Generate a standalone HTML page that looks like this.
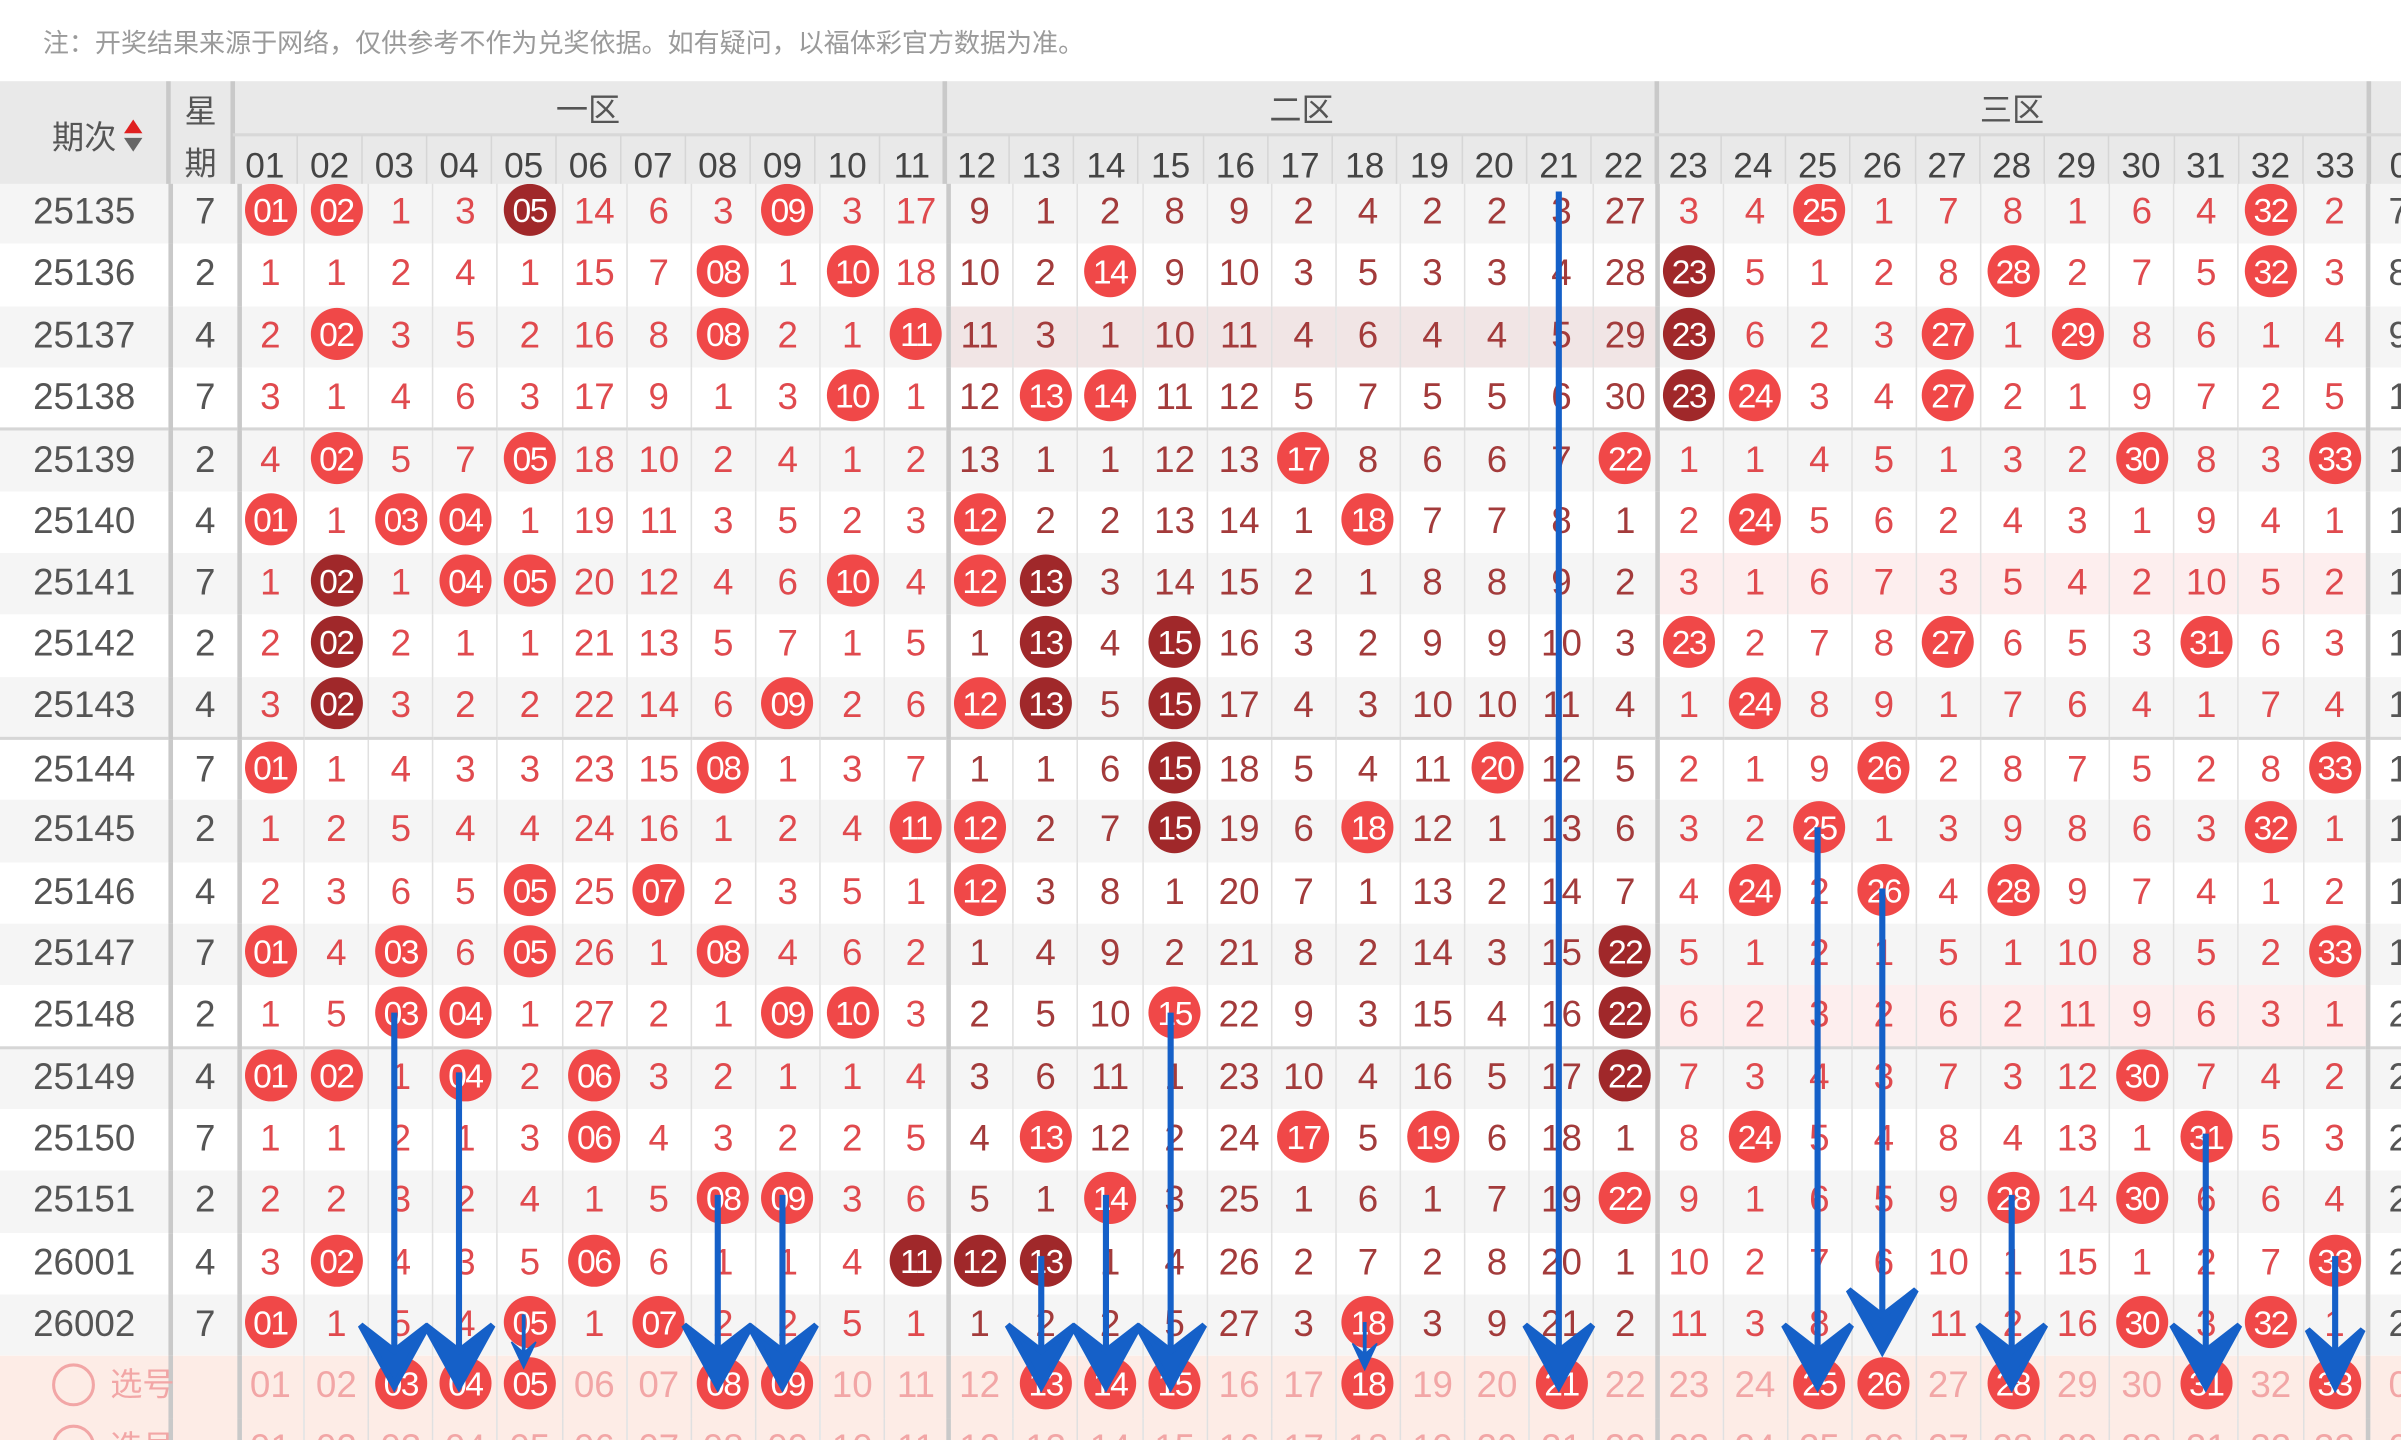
<!DOCTYPE html>
<html><head><meta charset="utf-8"><style>
html,body{margin:0;padding:0;background:#fff;width:2401px;height:1440px;overflow:hidden}
#w{position:absolute;left:0;top:0;width:1568px;height:940px;transform:scale(1.53125,1.5319);transform-origin:0 0;overflow:hidden;font-family:"Liberation Sans","Noto Sans CJK SC",sans-serif}
.note{position:absolute;left:28px;top:14px;font-size:17px;color:#9a9a9a}
.hd{position:absolute;left:0;top:53px;width:1600px;height:67px;background:#e9e9e9}
table{position:absolute;left:0;top:119px;border-collapse:collapse;table-layout:fixed;width:1588.5px}
tr{height:40.33px}
td{padding:0;text-align:center;font-size:24px;color:#e04a4e;border-left:1px solid #e0e0e0;white-space:nowrap;overflow:hidden;line-height:30px}
td:nth-child(1){width:110px;color:#555;border-left:none}
td:nth-child(2){width:42px;color:#555;border-left:3px solid #c9c9c9}
td:nth-child(3),td:nth-child(14),td:nth-child(25),td:nth-child(36){border-left:3px solid #c9c9c9;padding-right:3px}
td:nth-child(n+14):nth-child(-n+24){color:#a33b3b}
td:nth-child(36){color:#555}
tr:nth-child(odd) td{background:#f5f5f5}
tr.g td{border-bottom:2px solid #d6d6d6}
tr.p2 td:nth-child(n+14):nth-child(-n+24){background:#f1e5e5}
tr.p3 td:nth-child(n+25):nth-child(-n+35){background:#fdeeee}
b,i{display:inline-block;width:34px;height:34px;border-radius:50%;background:#f04848;color:#fff;line-height:35px;font-weight:normal;font-style:normal;font-size:22px;vertical-align:middle;letter-spacing:-1px;position:relative;top:-2px}
i{background:#a0282a}
tr.sel td,tr.sel2 td{background:#fdece6 !important;color:#f2a6a6 !important}
tr.sel td:first-child,tr.sel2 td:first-child{text-align:left;padding-left:34px;overflow:visible;font-size:21px}
.ci{display:inline-block;width:24px;height:24px;border:2px solid #f2a6a6;border-radius:50%;vertical-align:middle;margin-right:10px;position:relative;top:-2px}
svg{position:absolute;left:0;top:0}
</style></head><body><div id="w">
<div class="note">注：开奖结果来源于网络，仅供参考不作为兑奖依据。如有疑问，以福体彩官方数据为准。</div>
<table>
<tr><td>25135</td><td>7</td><td><b>01</b></td><td><b>02</b></td><td>1</td><td>3</td><td><i>05</i></td><td>14</td><td>6</td><td>3</td><td><b>09</b></td><td>3</td><td>17</td><td>9</td><td>1</td><td>2</td><td>8</td><td>9</td><td>2</td><td>4</td><td>2</td><td>2</td><td>3</td><td>27</td><td>3</td><td>4</td><td><b>25</b></td><td>1</td><td>7</td><td>8</td><td>1</td><td>6</td><td>4</td><td><b>32</b></td><td>2</td><td>7</td></tr>
<tr><td>25136</td><td>2</td><td>1</td><td>1</td><td>2</td><td>4</td><td>1</td><td>15</td><td>7</td><td><b>08</b></td><td>1</td><td><b>10</b></td><td>18</td><td>10</td><td>2</td><td><b>14</b></td><td>9</td><td>10</td><td>3</td><td>5</td><td>3</td><td>3</td><td>4</td><td>28</td><td><i>23</i></td><td>5</td><td>1</td><td>2</td><td>8</td><td><b>28</b></td><td>2</td><td>7</td><td>5</td><td><b>32</b></td><td>3</td><td>8</td></tr>
<tr class="p2"><td>25137</td><td>4</td><td>2</td><td><b>02</b></td><td>3</td><td>5</td><td>2</td><td>16</td><td>8</td><td><b>08</b></td><td>2</td><td>1</td><td><b>11</b></td><td>11</td><td>3</td><td>1</td><td>10</td><td>11</td><td>4</td><td>6</td><td>4</td><td>4</td><td>5</td><td>29</td><td><i>23</i></td><td>6</td><td>2</td><td>3</td><td><b>27</b></td><td>1</td><td><b>29</b></td><td>8</td><td>6</td><td>1</td><td>4</td><td>9</td></tr>
<tr class="g"><td>25138</td><td>7</td><td>3</td><td>1</td><td>4</td><td>6</td><td>3</td><td>17</td><td>9</td><td>1</td><td>3</td><td><b>10</b></td><td>1</td><td>12</td><td><b>13</b></td><td><b>14</b></td><td>11</td><td>12</td><td>5</td><td>7</td><td>5</td><td>5</td><td>6</td><td>30</td><td><i>23</i></td><td><b>24</b></td><td>3</td><td>4</td><td><b>27</b></td><td>2</td><td>1</td><td>9</td><td>7</td><td>2</td><td>5</td><td>1</td></tr>
<tr><td>25139</td><td>2</td><td>4</td><td><b>02</b></td><td>5</td><td>7</td><td><b>05</b></td><td>18</td><td>10</td><td>2</td><td>4</td><td>1</td><td>2</td><td>13</td><td>1</td><td>1</td><td>12</td><td>13</td><td><b>17</b></td><td>8</td><td>6</td><td>6</td><td>7</td><td><b>22</b></td><td>1</td><td>1</td><td>4</td><td>5</td><td>1</td><td>3</td><td>2</td><td><b>30</b></td><td>8</td><td>3</td><td><b>33</b></td><td>1</td></tr>
<tr><td>25140</td><td>4</td><td><b>01</b></td><td>1</td><td><b>03</b></td><td><b>04</b></td><td>1</td><td>19</td><td>11</td><td>3</td><td>5</td><td>2</td><td>3</td><td><b>12</b></td><td>2</td><td>2</td><td>13</td><td>14</td><td>1</td><td><b>18</b></td><td>7</td><td>7</td><td>8</td><td>1</td><td>2</td><td><b>24</b></td><td>5</td><td>6</td><td>2</td><td>4</td><td>3</td><td>1</td><td>9</td><td>4</td><td>1</td><td>1</td></tr>
<tr class="p3"><td>25141</td><td>7</td><td>1</td><td><i>02</i></td><td>1</td><td><b>04</b></td><td><b>05</b></td><td>20</td><td>12</td><td>4</td><td>6</td><td><b>10</b></td><td>4</td><td><b>12</b></td><td><i>13</i></td><td>3</td><td>14</td><td>15</td><td>2</td><td>1</td><td>8</td><td>8</td><td>9</td><td>2</td><td>3</td><td>1</td><td>6</td><td>7</td><td>3</td><td>5</td><td>4</td><td>2</td><td>10</td><td>5</td><td>2</td><td>1</td></tr>
<tr><td>25142</td><td>2</td><td>2</td><td><i>02</i></td><td>2</td><td>1</td><td>1</td><td>21</td><td>13</td><td>5</td><td>7</td><td>1</td><td>5</td><td>1</td><td><i>13</i></td><td>4</td><td><i>15</i></td><td>16</td><td>3</td><td>2</td><td>9</td><td>9</td><td>10</td><td>3</td><td><b>23</b></td><td>2</td><td>7</td><td>8</td><td><b>27</b></td><td>6</td><td>5</td><td>3</td><td><b>31</b></td><td>6</td><td>3</td><td>1</td></tr>
<tr class="g"><td>25143</td><td>4</td><td>3</td><td><i>02</i></td><td>3</td><td>2</td><td>2</td><td>22</td><td>14</td><td>6</td><td><b>09</b></td><td>2</td><td>6</td><td><b>12</b></td><td><i>13</i></td><td>5</td><td><i>15</i></td><td>17</td><td>4</td><td>3</td><td>10</td><td>10</td><td>11</td><td>4</td><td>1</td><td><b>24</b></td><td>8</td><td>9</td><td>1</td><td>7</td><td>6</td><td>4</td><td>1</td><td>7</td><td>4</td><td>1</td></tr>
<tr><td>25144</td><td>7</td><td><b>01</b></td><td>1</td><td>4</td><td>3</td><td>3</td><td>23</td><td>15</td><td><b>08</b></td><td>1</td><td>3</td><td>7</td><td>1</td><td>1</td><td>6</td><td><i>15</i></td><td>18</td><td>5</td><td>4</td><td>11</td><td><b>20</b></td><td>12</td><td>5</td><td>2</td><td>1</td><td>9</td><td><b>26</b></td><td>2</td><td>8</td><td>7</td><td>5</td><td>2</td><td>8</td><td><b>33</b></td><td>1</td></tr>
<tr><td>25145</td><td>2</td><td>1</td><td>2</td><td>5</td><td>4</td><td>4</td><td>24</td><td>16</td><td>1</td><td>2</td><td>4</td><td><b>11</b></td><td><b>12</b></td><td>2</td><td>7</td><td><i>15</i></td><td>19</td><td>6</td><td><b>18</b></td><td>12</td><td>1</td><td>13</td><td>6</td><td>3</td><td>2</td><td><b>25</b></td><td>1</td><td>3</td><td>9</td><td>8</td><td>6</td><td>3</td><td><b>32</b></td><td>1</td><td>1</td></tr>
<tr><td>25146</td><td>4</td><td>2</td><td>3</td><td>6</td><td>5</td><td><b>05</b></td><td>25</td><td><b>07</b></td><td>2</td><td>3</td><td>5</td><td>1</td><td><b>12</b></td><td>3</td><td>8</td><td>1</td><td>20</td><td>7</td><td>1</td><td>13</td><td>2</td><td>14</td><td>7</td><td>4</td><td><b>24</b></td><td>2</td><td><b>26</b></td><td>4</td><td><b>28</b></td><td>9</td><td>7</td><td>4</td><td>1</td><td>2</td><td>1</td></tr>
<tr><td>25147</td><td>7</td><td><b>01</b></td><td>4</td><td><b>03</b></td><td>6</td><td><b>05</b></td><td>26</td><td>1</td><td><b>08</b></td><td>4</td><td>6</td><td>2</td><td>1</td><td>4</td><td>9</td><td>2</td><td>21</td><td>8</td><td>2</td><td>14</td><td>3</td><td>15</td><td><i>22</i></td><td>5</td><td>1</td><td>2</td><td>1</td><td>5</td><td>1</td><td>10</td><td>8</td><td>5</td><td>2</td><td><b>33</b></td><td>1</td></tr>
<tr class="g p3"><td>25148</td><td>2</td><td>1</td><td>5</td><td><b>03</b></td><td><b>04</b></td><td>1</td><td>27</td><td>2</td><td>1</td><td><b>09</b></td><td><b>10</b></td><td>3</td><td>2</td><td>5</td><td>10</td><td><b>15</b></td><td>22</td><td>9</td><td>3</td><td>15</td><td>4</td><td>16</td><td><i>22</i></td><td>6</td><td>2</td><td>3</td><td>2</td><td>6</td><td>2</td><td>11</td><td>9</td><td>6</td><td>3</td><td>1</td><td>2</td></tr>
<tr><td>25149</td><td>4</td><td><b>01</b></td><td><b>02</b></td><td>1</td><td><b>04</b></td><td>2</td><td><b>06</b></td><td>3</td><td>2</td><td>1</td><td>1</td><td>4</td><td>3</td><td>6</td><td>11</td><td>1</td><td>23</td><td>10</td><td>4</td><td>16</td><td>5</td><td>17</td><td><i>22</i></td><td>7</td><td>3</td><td>4</td><td>3</td><td>7</td><td>3</td><td>12</td><td><b>30</b></td><td>7</td><td>4</td><td>2</td><td>2</td></tr>
<tr><td>25150</td><td>7</td><td>1</td><td>1</td><td>2</td><td>1</td><td>3</td><td><b>06</b></td><td>4</td><td>3</td><td>2</td><td>2</td><td>5</td><td>4</td><td><b>13</b></td><td>12</td><td>2</td><td>24</td><td><b>17</b></td><td>5</td><td><b>19</b></td><td>6</td><td>18</td><td>1</td><td>8</td><td><b>24</b></td><td>5</td><td>4</td><td>8</td><td>4</td><td>13</td><td>1</td><td><b>31</b></td><td>5</td><td>3</td><td>2</td></tr>
<tr><td>25151</td><td>2</td><td>2</td><td>2</td><td>3</td><td>2</td><td>4</td><td>1</td><td>5</td><td><b>08</b></td><td><b>09</b></td><td>3</td><td>6</td><td>5</td><td>1</td><td><b>14</b></td><td>3</td><td>25</td><td>1</td><td>6</td><td>1</td><td>7</td><td>19</td><td><b>22</b></td><td>9</td><td>1</td><td>6</td><td>5</td><td>9</td><td><b>28</b></td><td>14</td><td><b>30</b></td><td>6</td><td>6</td><td>4</td><td>2</td></tr>
<tr><td>26001</td><td>4</td><td>3</td><td><b>02</b></td><td>4</td><td>3</td><td>5</td><td><b>06</b></td><td>6</td><td>1</td><td>1</td><td>4</td><td><i>11</i></td><td><i>12</i></td><td><i>13</i></td><td>1</td><td>4</td><td>26</td><td>2</td><td>7</td><td>2</td><td>8</td><td>20</td><td>1</td><td>10</td><td>2</td><td>7</td><td>6</td><td>10</td><td>1</td><td>15</td><td>1</td><td>2</td><td>7</td><td><b>33</b></td><td>2</td></tr>
<tr><td>26002</td><td>7</td><td><b>01</b></td><td>1</td><td>5</td><td>4</td><td><b>05</b></td><td>1</td><td><b>07</b></td><td>2</td><td>2</td><td>5</td><td>1</td><td>1</td><td>2</td><td>2</td><td>5</td><td>27</td><td>3</td><td><b>18</b></td><td>3</td><td>9</td><td>21</td><td>2</td><td>11</td><td>3</td><td>8</td><td>7</td><td>11</td><td>2</td><td>16</td><td><b>30</b></td><td>3</td><td><b>32</b></td><td>1</td><td>2</td></tr>
<tr class="sel"><td><span class="ci"></span>选号</td><td></td><td>01</td><td>02</td><td><b>03</b></td><td><b>04</b></td><td><b>05</b></td><td>06</td><td>07</td><td><b>08</b></td><td><b>09</b></td><td>10</td><td>11</td><td>12</td><td><b>13</b></td><td><b>14</b></td><td><b>15</b></td><td>16</td><td>17</td><td><b>18</b></td><td>19</td><td>20</td><td><b>21</b></td><td>22</td><td>23</td><td>24</td><td><b>25</b></td><td><b>26</b></td><td>27</td><td><b>28</b></td><td>29</td><td>30</td><td><b>31</b></td><td>32</td><td><b>33</b></td><td>0</td></tr>
<tr class="sel2"><td><span class="ci"></span>选号</td><td></td><td>01</td><td>02</td><td>03</td><td>04</td><td>05</td><td>06</td><td>07</td><td>08</td><td>09</td><td>10</td><td>11</td><td>12</td><td>13</td><td>14</td><td>15</td><td>16</td><td>17</td><td>18</td><td>19</td><td>20</td><td>21</td><td>22</td><td>23</td><td>24</td><td>25</td><td>26</td><td>27</td><td>28</td><td>29</td><td>30</td><td>31</td><td>32</td><td>33</td><td>0</td></tr>
</table>
<div class="hd"></div>
<svg width="1600" height="940" viewBox="0 0 1600 940" style="pointer-events:none">
<g stroke="#c9c9c9" stroke-width="3"><line x1="110" y1="53" x2="110" y2="120"/><line x1="152" y1="53" x2="152" y2="120"/><line x1="617" y1="53" x2="617" y2="120"/><line x1="1082" y1="53" x2="1082" y2="120"/><line x1="1547" y1="53" x2="1547" y2="120"/></g>
<line x1="152" y1="88" x2="1600" y2="88" stroke="#d8d8d8" stroke-width="2"/>
<g stroke="#d6d6d6" stroke-width="1">
<line x1="194.1" y1="88" x2="194.1" y2="120"/><line x1="236.4" y1="88" x2="236.4" y2="120"/><line x1="278.6" y1="88" x2="278.6" y2="120"/><line x1="320.9" y1="88" x2="320.9" y2="120"/><line x1="363.1" y1="88" x2="363.1" y2="120"/><line x1="405.4" y1="88" x2="405.4" y2="120"/><line x1="447.6" y1="88" x2="447.6" y2="120"/><line x1="489.9" y1="88" x2="489.9" y2="120"/><line x1="532.1" y1="88" x2="532.1" y2="120"/><line x1="574.4" y1="88" x2="574.4" y2="120"/>
<line x1="659" y1="88" x2="659" y2="120"/><line x1="701" y1="88" x2="701" y2="120"/><line x1="743" y1="88" x2="743" y2="120"/><line x1="786" y1="88" x2="786" y2="120"/><line x1="828" y1="88" x2="828" y2="120"/><line x1="870" y1="88" x2="870" y2="120"/><line x1="912" y1="88" x2="912" y2="120"/><line x1="955" y1="88" x2="955" y2="120"/><line x1="997" y1="88" x2="997" y2="120"/><line x1="1039" y1="88" x2="1039" y2="120"/>
<line x1="1124" y1="88" x2="1124" y2="120"/><line x1="1166" y1="88" x2="1166" y2="120"/><line x1="1208" y1="88" x2="1208" y2="120"/><line x1="1251" y1="88" x2="1251" y2="120"/><line x1="1293" y1="88" x2="1293" y2="120"/><line x1="1335" y1="88" x2="1335" y2="120"/><line x1="1377" y1="88" x2="1377" y2="120"/><line x1="1420" y1="88" x2="1420" y2="120"/><line x1="1462" y1="88" x2="1462" y2="120"/><line x1="1504" y1="88" x2="1504" y2="120"/>
</g>
<g font-family="Liberation Sans, Noto Sans CJK SC, sans-serif" fill="#555" font-size="21">
<text x="34" y="97">期次</text><polygon points="87,78 81,87 93,87" fill="#e02020"/><polygon points="81,90 93,90 87,99" fill="#666"/>
<text x="131" y="80" text-anchor="middle">星</text><text x="131" y="114" text-anchor="middle">期</text>
<text x="384" y="79" text-anchor="middle">一区</text><text x="850" y="79" text-anchor="middle">二区</text><text x="1314" y="79" text-anchor="middle">三区</text>
</g>
<g font-family="Liberation Sans, sans-serif" fill="#444" font-size="23" text-anchor="middle">
<text x="173" y="116">01</text><text x="215.25" y="116">02</text><text x="257.5" y="116">03</text><text x="299.75" y="116">04</text><text x="342" y="116">05</text><text x="384.25" y="116">06</text><text x="426.5" y="116">07</text><text x="468.75" y="116">08</text><text x="511" y="116">09</text><text x="553.25" y="116">10</text><text x="595.5" y="116">11</text>
<text x="637.75" y="116">12</text><text x="680" y="116">13</text><text x="722.25" y="116">14</text><text x="764.5" y="116">15</text><text x="806.75" y="116">16</text><text x="849" y="116">17</text><text x="891.25" y="116">18</text><text x="933.5" y="116">19</text><text x="975.75" y="116">20</text><text x="1018" y="116">21</text><text x="1060.25" y="116">22</text>
<text x="1102.5" y="116">23</text><text x="1144.75" y="116">24</text><text x="1187" y="116">25</text><text x="1229.25" y="116">26</text><text x="1271.5" y="116">27</text><text x="1313.75" y="116">28</text><text x="1356" y="116">29</text><text x="1398.25" y="116">30</text><text x="1440.5" y="116">31</text><text x="1482.75" y="116">32</text><text x="1525" y="116">33</text><text x="1567" y="116">0</text>
</g>
<g stroke="#1560c8" stroke-width="4" fill="#1560c8">
<line x1="257.5" y1="661" x2="257.5" y2="890"/><polygon points="235.5,865 257.5,905 279.5,865 257.5,882"/>
<line x1="299.75" y1="700" x2="299.75" y2="890"/><polygon points="277.75,865 299.75,905 321.75,865 299.75,882"/>
<line x1="342" y1="858" x2="342" y2="885" stroke-width="2.5"/><polygon points="334,876 342,893 350,876 342,883" stroke-width="1"/>
<line x1="468.75" y1="780" x2="468.75" y2="890"/><polygon points="446.75,865 468.75,905 490.75,865 468.75,882"/>
<line x1="511" y1="780" x2="511" y2="890"/><polygon points="489,865 511,905 533,865 511,882"/>
<line x1="680" y1="820" x2="680" y2="890"/><polygon points="658,865 680,905 702,865 680,882"/>
<line x1="722.25" y1="780" x2="722.25" y2="890"/><polygon points="700.25,865 722.25,905 744.25,865 722.25,882"/>
<line x1="764.5" y1="661" x2="764.5" y2="890"/><polygon points="742.5,865 764.5,905 786.5,865 764.5,882"/>
<line x1="891.25" y1="863" x2="891.25" y2="885" stroke-width="2.5"/><polygon points="883.25,877 891.25,894 899.25,877 891.25,884" stroke-width="1"/>
<line x1="1018" y1="125" x2="1018" y2="890"/><polygon points="996,865 1018,905 1040,865 1018,882"/>
<line x1="1187" y1="540" x2="1187" y2="890"/><polygon points="1165,865 1187,905 1209,865 1187,882"/>
<line x1="1229.25" y1="580" x2="1229.25" y2="868"/><polygon points="1207.25,842 1229.25,882 1251.25,842 1229.25,859"/>
<line x1="1313.75" y1="780" x2="1313.75" y2="890"/><polygon points="1291.75,865 1313.75,905 1335.75,865 1313.75,882"/>
<line x1="1440.5" y1="740" x2="1440.5" y2="890"/><polygon points="1418.5,865 1440.5,905 1462.5,865 1440.5,882"/>
<line x1="1525" y1="820" x2="1525" y2="890"/><polygon points="1507,868 1525,905 1543,868 1525,884"/>
</g>
</svg>
</div></body></html>
